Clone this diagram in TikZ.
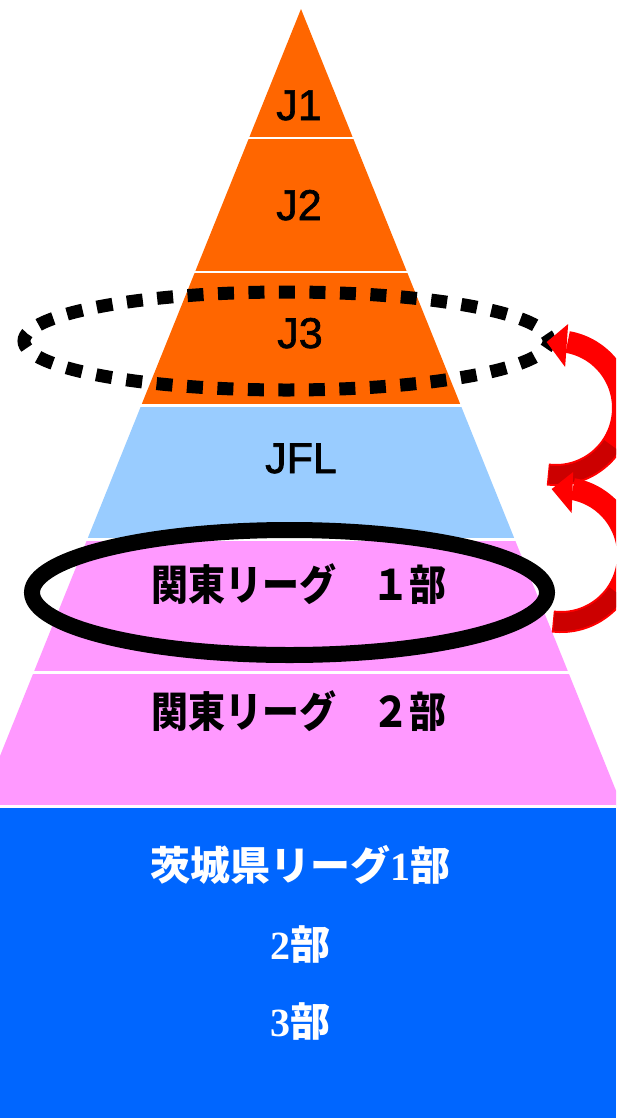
\documentclass[tikz,border=0pt]{standalone}
\usepackage{fontspec}
\usepackage{graphicx}
\usetikzlibrary{calc}
\newfontfamily\jp{Noto Sans CJK JP}
\newfontfamily\lsans{Liberation Sans}[FakeBold=1.5]
\newfontfamily\lserif{Liberation Serif}
\definecolor{jorange}{HTML}{FF6600}
\definecolor{jflblue}{HTML}{99CCFF}
\definecolor{kpink}{HTML}{FF99FF}
\definecolor{ibblue}{HTML}{0066FF}
\definecolor{arrred}{HTML}{FF0000}
\definecolor{arrdark}{HTML}{CC0000}
\begin{document}
\begin{tikzpicture}[x=1pt,y=-1pt,
  sep/.style={draw=white,line width=2.5pt},
  jlabel/.style={anchor=base,inner sep=0pt,font=\fontsize{43}{43}\selectfont\lsans},
  klabel/.style={anchor=base,inner sep=0pt,font=\fontsize{42}{42}\selectfont\jp\bfseries},
  wlabel/.style={anchor=base,inner sep=0pt,text=white,font=\fontsize{40}{40}\selectfont\jp\bfseries},
  band/.style={line width=22pt,arrred},
  bandback/.style={line width=18pt,arrdark},
  headtip/.style={fill=arrred},
  dotring/.style={line width=13pt,dash pattern=on 16pt off 14.5pt,dash phase=8pt},
  solidring/.style={line width=16pt}]
\useasboundingbox (0,0) rectangle (616,1119);
\clip (0,0) rectangle (616,1119);
% pyramid bands
\fill[jorange] (301,9) -- (353.0,138) -- (249.0,138) -- cycle;
\fill[jorange] (249.0,138) -- (353.0,138) -- (407.0,272) -- (195.0,272) -- cycle;
\fill[jorange] (195.0,272) -- (407.0,272) -- (460.8,405.5) -- (141.2,405.5) -- cycle;
\fill[jflblue] (141.2,405.5) -- (460.8,405.5) -- (514.8,539.5) -- (87.2,539.5) -- cycle;
\fill[kpink] (87.2,539.5) -- (514.8,539.5) -- (568.4,672.5) -- (33.6,672.5) -- cycle;
\fill[kpink] (33.6,672.5) -- (568.4,672.5) -- (622.4,806.5) -- (-20.4,806.5) -- cycle;
% separators
\draw[sep] (245,138) -- (357,138);
\draw[sep] (191,272) -- (411,272);
\draw[sep] (137,405.5) -- (465,405.5);
\draw[sep] (83,539.5) -- (519,539.5);
\draw[sep] (29,672.5) -- (573,672.5);
\draw[sep] (-25,806.5) -- (627,806.5);
% base block
\fill[ibblue] (0,808) rectangle (616,1118);
% labels
\node[jlabel] (nJ1) at (299,120) {J1};
\node[jlabel] (nJ2) at (299,220) {J2};
\node[jlabel] (nJ3) at (300,348) {J3};
\node[jlabel] (nJFL) at (301,473) {JFL};
\node[klabel] (nK1) at (299,600) {\scalebox{0.88}[1]{関東リーグ　１部}};
\node[klabel] (nK2) at (299,727) {\scalebox{0.88}[1]{関東リーグ　２部}};
\node[wlabel] (nI1) at (300,880) {茨城県リーグ{\lserif\bfseries 1}部};
\node[wlabel] (nI2) at (300,959) {{\lserif\bfseries 2}部};
\node[wlabel] (nI3) at (300,1036) {{\lserif\bfseries 3}部};
% rings
\coordinate (ringA) at (286.5,341);
\coordinate (ringB) at (289.5,592.5);
\draw[dotring] (ringA) ellipse [x radius=262.5, y radius=49];
\draw[solidring] (ringB) ellipse [x radius=257.5, y radius=62.5];
% curved arrows
\coordinate (c1) at (556,408);
\coordinate (c2) at (561,555);
\coordinate (t1) at ($(c1)+(97:67)$);
\coordinate (t1b) at ($(c1)+(96:67)$);
\coordinate (h1) at ($(c1)+(-80:67)$);
\coordinate (t2) at ($(c2)+(97:67)$);
\coordinate (t2b) at ($(c2)+(96:67)$);
\coordinate (h2) at ($(c2)+(-80:67)$);
\draw[band] (t1) arc[start angle=97,end angle=-80,radius=67];
\draw[bandback] (t1b) arc[start angle=96,end angle=34,radius=67];
\fill[headtip] ($(h1)+(-21,0)$) -- ($(h1)+(0.5,-18)$) -- ($(h1)+(-2.5,25)$) -- cycle;
\draw[band] (t2) arc[start angle=97,end angle=-80,radius=67];
\draw[bandback] (t2b) arc[start angle=96,end angle=34,radius=67];
\fill[headtip] ($(h2)+(-21,0)$) -- ($(h2)+(0.5,-17)$) -- ($(h2)+(-1,24)$) -- cycle;
\end{tikzpicture}
\end{document}
